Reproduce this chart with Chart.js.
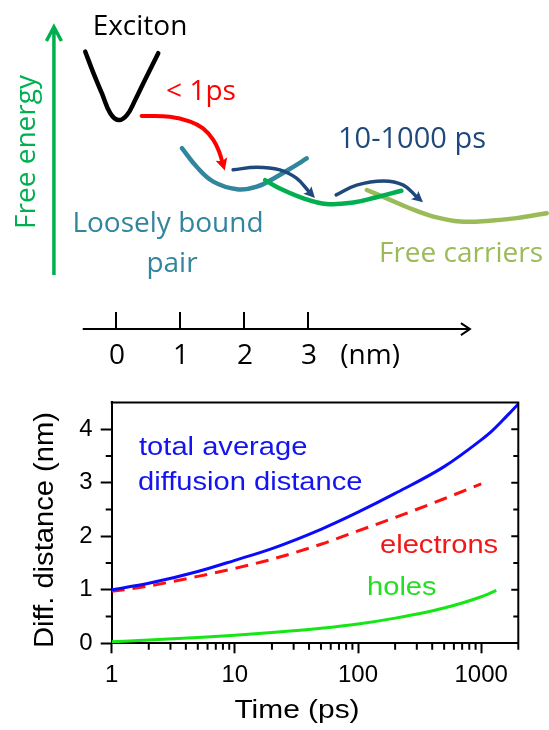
<!DOCTYPE html>
<html lang="en">
<head>
  <meta charset="UTF-8" />
  <title>Exciton dissociation - diffusion distance</title>
  <script src="https://cdn.jsdelivr.net/npm/chart.js"></script>
  <style>
    body { margin: 0; background: #fff; }
    #wrap { position: relative; width: 549px; height: 730px; }
    canvas { position: absolute; left: 0; }
    #scheme { top: 0; }
    #diff { top: 380px; }
  </style>
</head>
<body>
  <div id="wrap">
    <canvas id="scheme" width="549" height="380"></canvas>
    <canvas id="diff" width="549" height="350"></canvas>
  </div>

  <script>
    // --- sketch: free energy (arb. units) vs. electron-hole separation (nm) ---
    const excitonWell = [[-0.48, 8.64], [-0.36, 8.11], [-0.22, 7.54], [-0.09, 7.02], [0.04, 6.84], [0.17, 6.97], [0.30, 7.37], [0.45, 7.89], [0.66, 8.60]];
    const fastArrow = [[0.40, 6.95], [0.84, 6.93], [1.16, 6.80], [1.36, 6.62], [1.52, 6.32], [1.62, 5.97], [1.66, 5.74]];
    const boundPair = [[1.03, 6.10], [1.26, 5.61], [1.52, 5.22], [1.89, 5.02], [2.20, 5.09], [2.51, 5.35], [2.77, 5.61], [2.98, 5.83]];
    const middleWell = [[2.33, 5.26], [2.56, 5.04], [2.93, 4.78], [3.29, 4.63], [3.71, 4.67], [4.07, 4.81], [4.46, 4.98]];
    const freeCarriers = [[3.92, 5.00], [4.23, 4.78], [4.59, 4.52], [4.96, 4.30], [5.38, 4.17], [5.84, 4.19], [6.26, 4.26], [6.73, 4.39]];
    const slowArrow1 = [[1.83, 5.53], [2.20, 5.60], [2.56, 5.53], [2.82, 5.31], [3.02, 4.95]];
    const slowArrow2 = [[3.44, 4.87], [3.76, 5.13], [4.18, 5.24], [4.49, 5.13], [4.70, 4.82]];
    const nmTicks = [0, 1, 2, 3];

    // --- plot: diffusion distance vs. time ---
    const totalTimes = [1, 2, 5, 10, 20, 50, 100, 200, 500, 1000, 1200, 1500, 1750, 2000];
    const totalDist = [1.0, 1.12, 1.34, 1.55, 1.77, 2.13, 2.45, 2.8, 3.3, 3.8, 3.95, 4.17, 4.33, 4.47];
    const electronTimes = [1, 2, 5, 10, 20, 50, 100, 200, 500, 1000];
    const electronDist = [0.97, 1.07, 1.25, 1.40, 1.57, 1.85, 2.1, 2.35, 2.7, 2.98];
    const holeTimes = [1, 2, 5, 10, 20, 50, 100, 200, 500, 1000, 1325];
    const holeDist = [0.03, 0.06, 0.11, 0.15, 0.2, 0.28, 0.36, 0.47, 0.66, 0.87, 0.99];
    const timeTicks = [1, 10, 100, 1000];
    const distTicks = [0, 1, 2, 3, 4];

    Chart.defaults.animation = false;

    const pts = arr => arr.map(([x, y]) => ({ x, y }));
    const zip = (xs, ys) => xs.map((x, i) => ({ x, y: ys[i] }));

    const SANS = '"Open Sans"';

    function curve(data, color, width, arrow) {
      return {
        data: pts(data), borderColor: color, borderWidth: width,
        showLine: true, pointRadius: 0, tension: 0.4, borderCapStyle: 'round',
        arrowHead: arrow || null
      };
    }

    const sketchDecor = {
      id: 'sketchDecor',
      afterDatasetsDraw(chart) {
        const { ctx, scales: { x, y } } = chart;
        ctx.save();

        // arrowheads at the end of the transfer arrows
        chart.data.datasets.forEach((ds, i) => {
          if (!ds.arrowHead) return;
          const el = chart.getDatasetMeta(i).data;
          const p = el[el.length - 1], q = el[el.length - 2];
          let dx = p.x - (p.cp1x ?? q.x), dy = p.y - (p.cp1y ?? q.y);
          if (Math.hypot(dx, dy) < 0.5) { dx = p.x - q.x; dy = p.y - q.y; }
          const L = Math.hypot(dx, dy), ux = dx / L, uy = dy / L;
          const len = ds.arrowHead.len, half = ds.arrowHead.half;
          const tx = p.x + ux * len * 0.75, ty = p.y + uy * len * 0.75;
          ctx.fillStyle = ds.borderColor;
          ctx.beginPath();
          ctx.moveTo(tx, ty);
          ctx.lineTo(tx - ux * len - uy * half, ty - uy * len + ux * half);
          ctx.lineTo(tx - ux * len * 0.8, ty - uy * len * 0.8);
          ctx.lineTo(tx - ux * len + uy * half, ty - uy * len - ux * half);
          ctx.closePath();
          ctx.fill();
        });

        // free energy arrow
        const ex = x.getPixelForValue(-0.97);
        const eb = y.getPixelForValue(2.76), et = y.getPixelForValue(9.29);
        ctx.strokeStyle = '#00b050';
        ctx.lineWidth = 3.5;
        ctx.beginPath();
        ctx.moveTo(ex, eb); ctx.lineTo(ex, et + 1);
        ctx.moveTo(ex - 7.5, et + 14); ctx.lineTo(ex, et); ctx.lineTo(ex + 7.5, et + 14);
        ctx.stroke();

        // distance axis (nm)
        const ay = y.getPixelForValue(1.34);
        const ax0 = x.getPixelForValue(-0.52), ax1 = x.getPixelForValue(5.53);
        ctx.strokeStyle = '#000';
        ctx.lineWidth = 2;
        ctx.beginPath();
        ctx.moveTo(ax0, ay); ctx.lineTo(ax1, ay);
        ctx.moveTo(ax1 - 9, ay - 6); ctx.lineTo(ax1, ay); ctx.lineTo(ax1 - 9, ay + 6);
        nmTicks.forEach(v => {
          const px = x.getPixelForValue(v);
          ctx.moveTo(px, ay); ctx.lineTo(px, ay - 17);
        });
        ctx.stroke();

        ctx.fillStyle = '#000';
        ctx.font = '28px ' + SANS;
        ctx.textAlign = 'center';
        ctx.textBaseline = 'alphabetic';
        nmTicks.forEach(v => ctx.fillText(String(v), x.getPixelForValue(v) + 1, ay + 35));
        ctx.fillText('(nm)', x.getPixelForValue(3.97), ay + 35);

        // labels
        const label = (t, cx, by, color, size) => {
          ctx.fillStyle = color;
          ctx.font = size + 'px ' + SANS;
          ctx.fillText(t, cx, by);
        };
        label('Exciton', 140, 35, '#000', 28);
        label('< 1ps', 201, 100, '#ff0000', 28);
        label('10-1000 ps', 412, 148, '#1f497d', 29);
        label('Loosely bound', 168, 232, '#31859c', 28);
        label('pair', 172, 272, '#31859c', 28);
        label('Free carriers', 461, 262, '#9bbb59', 28);

        ctx.save();
        ctx.translate(35, 152);
        ctx.rotate(-Math.PI / 2);
        ctx.fillStyle = '#00b050';
        ctx.font = '28px ' + SANS;
        ctx.fillText('Free energy', 0, 0);
        ctx.restore();

        ctx.restore();
      }
    };

    new Chart(document.getElementById('scheme'), {
      type: 'scatter',
      data: {
        datasets: [
          curve(slowArrow1, '#1f497d', 3.5, { len: 11, half: 5.5 }),
          curve(slowArrow2, '#1f497d', 3.5, { len: 11, half: 5.5 }),
          curve(fastArrow, '#ff0000', 4, { len: 12, half: 6 }),
          curve(middleWell, '#00b050', 4.5),
          curve(freeCarriers, '#9bbb59', 4.5),
          curve(boundPair, '#31859c', 4.5),
          curve(excitonWell, '#000000', 4.5)
        ]
      },
      options: {
        responsive: false,
        layout: { padding: 0 },
        plugins: { legend: { display: false }, tooltip: { enabled: false } },
        scales: {
          x: { type: 'linear', display: false, min: -116 / 64, max: (549 - 116) / 64 },
          y: { type: 'linear', display: false, min: 0, max: 10 }
        }
      },
      plugins: [sketchDecor]
    });

    // --- bottom plot ---
    const FONT = '"Liberation Sans", Arial, sans-serif';

    function stretched(ctx, text, x, y, sx, rot) {
      ctx.save();
      ctx.translate(x, y);
      if (rot) ctx.rotate(-Math.PI / 2);
      ctx.scale(sx, 1);
      ctx.fillText(text, 0, 0);
      ctx.restore();
    }

    const plotDecor = {
      id: 'plotDecor',
      afterDraw(chart) {
        const { ctx, chartArea: a, scales: { x, y } } = chart;
        ctx.save();
        ctx.strokeStyle = '#000';
        ctx.lineWidth = 2;
        ctx.beginPath();
        ctx.moveTo(a.left - 1, a.top); ctx.lineTo(a.right, a.top); ctx.lineTo(a.right, a.bottom);
        // minor ticks on y (outside left), all ticks inside right
        for (let v = 0.5; v < 4.5; v += 0.5) {
          const py = y.getPixelForValue(v);
          const major = Number.isInteger(v);
          if (!major) { ctx.moveTo(a.left, py); ctx.lineTo(a.left - 6, py); }
          ctx.moveTo(a.right, py); ctx.lineTo(a.right - (major ? 7 : 5), py);
        }
        // minor ticks on x
        for (let d = 1; d <= 1000; d *= 10) {
          for (let m = 2; m <= 9; m++) {
            const v = d * m;
            if (v > 2000) break;
            const px = x.getPixelForValue(v);
            ctx.moveTo(px, a.bottom); ctx.lineTo(px, a.bottom + 6.5);
          }
        }
        ctx.stroke();

        // axis titles
        ctx.fillStyle = '#000';
        ctx.textAlign = 'center';
        ctx.textBaseline = 'alphabetic';
        ctx.font = '26px ' + FONT;
        stretched(ctx, 'Time (ps)', 297, 338, 1.15, false);
        ctx.textBaseline = 'middle';
        ctx.font = '27px ' + FONT;
        stretched(ctx, 'Diff. distance (nm)', 46, 150, 1.08, true);

        // curve labels
        ctx.textAlign = 'left';
        ctx.textBaseline = 'alphabetic';
        ctx.font = '26px ' + FONT;
        ctx.fillStyle = '#1414ee';
        stretched(ctx, 'total average', 139, 75, 1.12, false);
        stretched(ctx, 'diffusion distance', 138, 110, 1.12, false);
        ctx.fillStyle = '#f01818';
        stretched(ctx, 'electrons', 380, 173, 1.12, false);
        ctx.fillStyle = '#22e022';
        stretched(ctx, 'holes', 367, 215, 1.12, false);
        ctx.restore();
      }
    };

    new Chart(document.getElementById('diff'), {
      type: 'scatter',
      data: {
        datasets: [
          { label: 'total', data: zip(totalTimes, totalDist), borderColor: '#0a0aff', borderWidth: 3 },
          { label: 'electrons', data: zip(electronTimes, electronDist), borderColor: '#ff1010', borderWidth: 3, borderDash: [13, 8] },
          { label: 'holes', data: zip(holeTimes, holeDist), borderColor: '#16e616', borderWidth: 3 }
        ].map(d => Object.assign(d, { showLine: true, pointRadius: 0, cubicInterpolationMode: 'monotone' }))
      },
      options: {
        responsive: false,
        layout: { padding: { top: 20.7, right: 30.7, left: 0, bottom: 0 } },
        plugins: { legend: { display: false }, tooltip: { enabled: false } },
        scales: {
          x: {
            type: 'logarithmic', min: 1, max: 2000,
            afterBuildTicks: s => { s.ticks = timeTicks.map(v => ({ value: v })); },
            afterFit: s => { s.height = 86.7; },
            ticks: { color: '#000', font: { family: FONT, size: 24 }, padding: 8, maxRotation: 0, autoSkip: false, callback: v => String(v) },
            grid: { drawOnChartArea: false, tickLength: 10, tickWidth: 2, tickColor: '#000' },
            border: { color: '#000', width: 2 }
          },
          y: {
            min: 0, max: 4.5,
            afterBuildTicks: s => { s.ticks = distTicks.map(v => ({ value: v })); },
            afterFit: s => { s.width = 111.7; },
            ticks: { color: '#000', font: { family: FONT, size: 24 }, padding: 8 },
            grid: { drawOnChartArea: false, tickLength: 11, tickWidth: 2, tickColor: '#000' },
            border: { color: '#000', width: 2 }
          }
        }
      },
      plugins: [plotDecor]
    });
  </script>
</body>
</html>
